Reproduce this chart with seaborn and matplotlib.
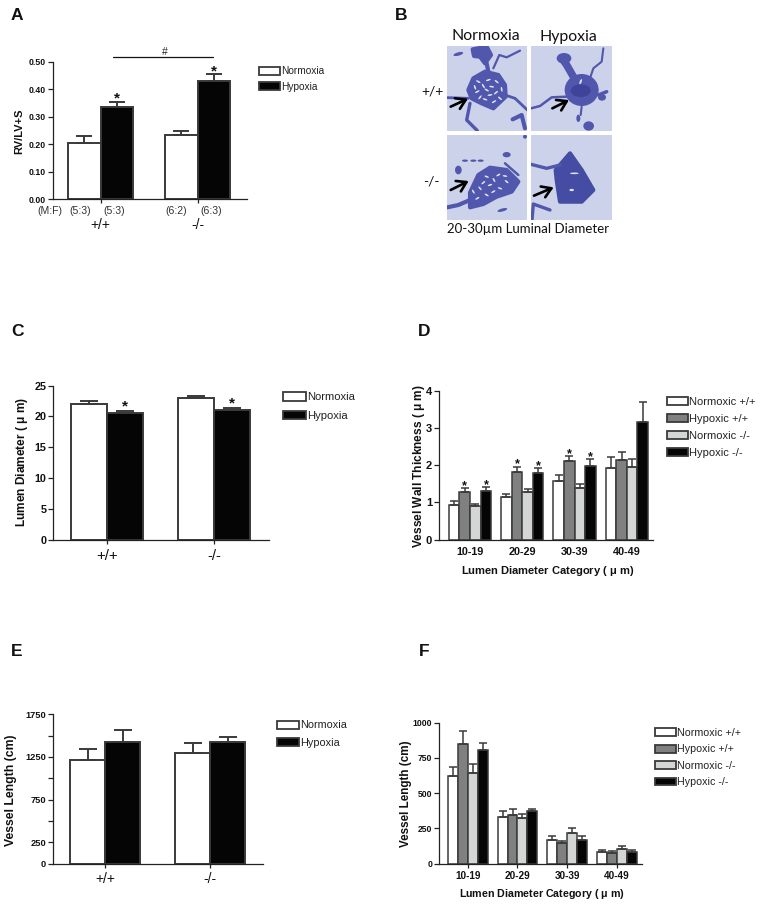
import pandas as pd
import numpy as np
import matplotlib
matplotlib.use("Agg")
import matplotlib.pyplot as plt
import seaborn as sns
from matplotlib.patches import Patch, Rectangle, Polygon, Ellipse

W, H = 764, 906

genotypes = ["+/+", "-/-"]
oxygen = ["Normoxia", "Hypoxia"]
diam_cats = ["10-19", "20-29", "30-39", "40-49"]
groups4 = ["Normoxic +/+", "Hypoxic +/+", "Normoxic -/-", "Hypoxic -/-"]

rv_normoxia = [0.206, 0.234]
rv_hypoxia = [0.334, 0.431]
rv_normoxia_err = [0.025, 0.015]
rv_hypoxia_err = [0.021, 0.023]
sex_ratio = ["(M:F)", "(5:3)", "(5:3)", "(6:2)", "(6:3)"]

lumen_normoxia = [22.1, 23.0]
lumen_hypoxia = [20.5, 21.05]
lumen_normoxia_err = [0.46, 0.27]
lumen_hypoxia_err = [0.40, 0.35]

length_normoxia = [1211, 1297]
length_hypoxia = [1422, 1430]
length_normoxia_err = [129, 121]
length_hypoxia_err = [144, 50]

wall_normoxic_wt = [0.94, 1.155, 1.575, 1.93]
wall_hypoxic_wt = [1.28, 1.82, 2.12, 2.14]
wall_normoxic_ko = [0.90, 1.27, 1.38, 1.94]
wall_hypoxic_ko = [1.31, 1.78, 1.99, 3.16]
wall_normoxic_wt_err = [0.10, 0.08, 0.155, 0.30]
wall_hypoxic_wt_err = [0.10, 0.14, 0.13, 0.21]
wall_normoxic_ko_err = [0.07, 0.08, 0.12, 0.23]
wall_hypoxic_ko_err = [0.11, 0.14, 0.17, 0.54]
wall_stars_hypoxic = [True, True, True, False]

catlen_normoxic_wt = [622, 331, 165, 83]
catlen_hypoxic_wt = [846, 345, 147, 73]
catlen_normoxic_ko = [643, 322, 220, 106]
catlen_hypoxic_ko = [804, 374, 170, 80]
catlen_normoxic_wt_err = [64, 42, 29, 16]
catlen_hypoxic_wt_err = [97, 45, 16, 14]
catlen_normoxic_ko_err = [61, 28, 33, 17]
catlen_hypoxic_ko_err = [49, 14, 26, 15]

EDGE = "#3a3a3a"
colors2 = ["white", "#050505"]
colors4 = ["white", "#808080", "#d4d6d6", "#050505"]

sns.set_theme(style="ticks")
plt.rcParams["font.family"] = ["Liberation Sans", "DejaVu Sans"]
plt.rcParams["mathtext.default"] = "regular"

fig = plt.figure(figsize=(W / 100, H / 100), dpi=100)


def fx(x):
    return x / W


def fy(y):
    return 1 - y / H


def px_text(x, y, s, **kw):
    kw.setdefault("ha", "center")
    kw.setdefault("va", "center")
    kw.setdefault("color", "#111111")
    fig.text(fx(x), fy(y), s, **kw)


def panel(box, xlim, ylim, yticks, ylabels, ysize, ticklen=3.4):
    left, top, right, bottom = box
    ax = fig.add_axes([fx(left), fy(bottom), fx(right - left), (bottom - top) / H])
    ax.set_xlim(xlim)
    ax.set_ylim(ylim)
    sns.despine(ax=ax)
    for s in ["left", "bottom"]:
        ax.spines[s].set_linewidth(0.9)
        ax.spines[s].set_color("#222222")
    ax.set_yticks(yticks)
    ax.set_yticklabels(ylabels, fontsize=ysize, fontweight="bold", color="#111111")
    ax.tick_params(axis="y", length=ticklen, width=0.9, pad=1.5, color="#222222")
    ax.tick_params(axis="x", length=3.2, width=0.9, color="#222222")
    return ax


def bars(ax, cats, names, values, errs, colors, width, capsize, edge=1.4):
    rows = []
    for name, vals in zip(names, values):
        for cat, v in zip(cats, vals):
            rows.append({"cat": cat, "group": name, "value": v})
    df = pd.DataFrame(rows)
    xlim, ylim = ax.get_xlim(), ax.get_ylim()
    sns.barplot(data=df, x="cat", y="value", hue="group", order=cats, hue_order=names,
                palette=dict(zip(names, colors)), saturation=1, width=width, gap=0,
                errorbar=None, edgecolor=EDGE, linewidth=edge, legend=False, ax=ax)
    tops = []
    for cont, vals, es in zip(ax.containers, values, errs):
        row = []
        for rect, v, e in zip(cont, vals, es):
            x = rect.get_x() + rect.get_width() / 2
            ax.errorbar(x, v, yerr=[[0], [e]], color=EDGE, elinewidth=edge, capsize=capsize,
                        capthick=edge, zorder=1.5)
            row.append((x, v + e))
        tops.append(row)
    ax.set_xlim(xlim)
    ax.set_ylim(ylim)
    ax.set_xlabel("")
    ax.set_ylabel("")
    return tops


def star(ax, pos, size, off):
    ax.annotate("*", xy=pos, xytext=(0, off), textcoords="offset points", ha="center",
                va="center", fontsize=size, fontweight="bold", color="#111111")


def legend(ax, names, colors, x, y, h, gap, size, hl, hh):
    handles = [Patch(facecolor=c, edgecolor=EDGE, linewidth=1.3) for c in colors]
    ax.legend(handles, names, loc="upper left", bbox_to_anchor=(fx(x), fy(y)),
              bbox_transform=fig.transFigure, frameon=False, borderpad=0, borderaxespad=0,
              fontsize=size, handlelength=hl, handleheight=hh, handletextpad=0.15,
              labelspacing=gap, labelcolor="#222222")


def ylab(ax, s, x, y, size):
    ax.set_ylabel(s, fontsize=size, fontweight="bold", color="#111111")
    ax.yaxis.set_label_coords(fx(x + 5.5), fy(y), transform=fig.transFigure)


def xlab(ax, s, x, y, size):
    ax.set_xlabel(s, fontsize=size, fontweight="bold", color="#111111")
    ax.xaxis.set_label_coords(fx(x), fy(y - 6), transform=fig.transFigure)


# A
ax = panel((52.7, 61.7, 247, 199.3), (-0.495, 1.508), (0, 0.5),
           [0, 0.1, 0.2, 0.3, 0.4, 0.5], ["0.00", "0.10", "0.20", "0.30", "0.40", "0.50"], 6.3)
tops = bars(ax, genotypes, oxygen, [rv_normoxia, rv_hypoxia],
            [rv_normoxia_err, rv_hypoxia_err], colors2, 0.67, 6.0)
ax.set_xticks([0, 1])
ax.set_xticklabels(genotypes, fontsize=10, color="#111111")
ax.tick_params(axis="x", pad=10)
for p in tops[1]:
    star(ax, p, 11, 2)
ylab(ax, "RV/LV+S", 19, 131, 8)
legend(ax, oxygen, colors2, 259.3, 66.5, 8.7, 0.52, 7.3, 2.0, 0.85)
for xp, s in zip([50, 80, 114, 176, 210.7], sex_ratio):
    px_text(xp, 210.5, s, fontsize=7.6, color="#333333")
fig.add_artist(plt.Line2D([fx(113.3), fx(213.3)], [fy(57), fy(57)], color="#111111", lw=0.9))
px_text(165, 52, "#", fontsize=7.5, color="#222222")

# B
axb = fig.add_axes([fx(390), fy(250), fx(280), 250 / H])
axb.set_xlim(0, 840)
axb.set_ylim(750, 0)
axb.axis("off")
BG = "#ccd2ea"
DARK = "#5057ad"
DEEP = "#3f4499"
PALE = "#dfe3f3"
frames = [(172, 138, 240, 255), (423, 138, 242, 255), (172, 404, 240, 256), (423, 404, 242, 256)]
rects = []
for fr in frames:
    r = Rectangle((fr[0], fr[1]), fr[2], fr[3], facecolor=BG, edgecolor="none")
    axb.add_patch(r)
    rects.append(r)


def strand(i, pts, lw=2):
    xs, ys = zip(*pts)
    line, = axb.plot(xs, ys, color=DARK, lw=lw, solid_capstyle="round", solid_joinstyle="round")
    line.set_clip_path(rects[i])


def blob(i, pts, color=DARK):
    p = Polygon(pts, closed=True, facecolor=color, edgecolor=color, lw=3, joinstyle="round")
    axb.add_patch(p)
    p.set_clip_path(rects[i])


def spot(i, x, y, w, h, color=DARK, angle=0):
    e = Ellipse((x, y), w, h, angle=angle, facecolor=color, edgecolor="none")
    axb.add_patch(e)
    e.set_clip_path(rects[i])


# top left micrograph
blob(0, [(235, 270), (250, 235), (285, 215), (325, 225), (345, 255), (347, 290), (310, 325), (275, 310), (245, 295)])
strand(0, [(295, 215), (290, 190), (280, 175)], 3)
blob(0, [(248, 148), (290, 140), (303, 165), (285, 190), (270, 170), (252, 168)])
strand(0, [(310, 205), (328, 165), (350, 172), (390, 152)], 1.6)
strand(0, [(345, 285), (375, 295), (412, 330)], 2)
strand(0, [(235, 295), (172, 293)], 2)
strand(0, [(240, 310), (230, 360), (262, 392)], 2.4)
strand(0, [(368, 358), (395, 345), (405, 385)], 3)
spot(0, 205, 162, 30, 10, angle=-15)
for px_, py_, ang in [(265, 245, 30), (295, 240, -20), (320, 245, 40), (262, 275, -30), (290, 270, 30),
                      (318, 278, -40), (285, 298, 20), (312, 305, -30), (255, 262, 70), (335, 268, 80),
                      (280, 258, 60), (305, 260, 10), (270, 292, -50), (300, 285, -10), (330, 295, 40)]:
    spot(0, px_, py_, 15, 5, PALE, ang)

# top right micrograph
spot(1, 575, 270, 102, 96)
spot(1, 572, 272, 60, 38, DEEP)
spot(1, 572, 245, 6, 16, PALE, 20)
strand(1, [(550, 230), (530, 195), (518, 178)], 5.5)
spot(1, 522, 175, 44, 32)
strand(1, [(640, 145), (635, 185), (610, 205), (600, 235)], 1.5)
strand(1, [(625, 285), (650, 275)], 2.5)
spot(1, 636, 292, 24, 20)
strand(1, [(530, 290), (485, 292), (450, 318), (423, 325)], 1.8)
strand(1, [(575, 320), (572, 345)], 1.5)
spot(1, 565, 355, 12, 22)
spot(1, 596, 378, 32, 28)

# bottom left micrograph
blob(2, [(240, 578), (265, 525), (300, 503), (350, 510), (385, 545), (365, 575), (320, 590), (280, 612), (240, 622)])
for px_, py_, ang in [(290, 530, 20), (325, 525, -30), (350, 545, 40), (300, 555, -20), (270, 565, 50),
                      (330, 565, 20), (262, 595, -30), (290, 585, 30), (250, 575, 60), (312, 540, 60),
                      (280, 548, -40), (345, 528, 10), (310, 575, -30)]:
    spot(2, px_, py_, 14, 5, PALE, ang)
strand(2, [(172, 622), (205, 615), (240, 600)], 3)
for px_, py_ in [(225, 482), (250, 482), (272, 482)]:
    spot(2, px_, py_, 18, 7)
spot(2, 350, 464, 24, 16)
spot(2, 205, 510, 20, 26)
spot(2, 337, 630, 30, 9, angle=-15)
spot(2, 405, 410, 12, 12)
strand(2, [(345, 490), (385, 525)], 1.8)

# bottom right micrograph
blob(3, [(540, 460), (575, 510), (610, 570), (575, 605), (510, 605), (500, 540), (497, 510)], "#454ca3")
spot(3, 553, 520, 26, 5, PALE)
spot(3, 545, 570, 14, 7, PALE)
strand(3, [(423, 493), (470, 505), (510, 495)], 2.4)
strand(3, [(426, 660), (430, 612), (480, 630)], 2.4)

for x0, y0, x1, y1 in [(182, 320, 234, 296), (487, 325, 537, 300), (182, 570, 236, 543), (432, 587, 491, 562)]:
    axb.annotate("", xy=(x1, y1), xytext=(x0, y0),
                 arrowprops=dict(arrowstyle="->,head_length=0.55,head_width=0.35", color="black", lw=1.9, shrinkA=0, shrinkB=0))

lato = ["Lato", "DejaVu Sans"]
px_text(486, 36.5, "Normoxia", fontsize=11.4, family=lato)
px_text(568.5, 36.5, "Hypoxia", fontsize=11.4, family=lato)
px_text(432, 91, "+/+", fontsize=10, family=lato)
px_text(431.5, 182, "-/-", fontsize=10, family=lato)
px_text(528, 229, "20-30µm Luminal Diameter", fontsize=9.5, family=lato)

# C
ax = panel((53.3, 385.7, 269.3, 539.7), (-0.496, 1.51), (0, 25),
           [0, 5, 10, 15, 20, 25], ["0", "5", "10", "15", "20", "25"], 7.8)
tops = bars(ax, genotypes, oxygen, [lumen_normoxia, lumen_hypoxia],
            [lumen_normoxia_err, lumen_hypoxia_err], colors2, 0.67, 6.4)
ax.set_xticks([0, 1])
ax.set_xticklabels(genotypes, fontsize=10.8, color="#111111")
for p in tops[1]:
    star(ax, p, 11, 3)
ylab(ax, "Lumen Diameter ( $\\mu$ m)", 24.3, 462, 8.6)
legend(ax, oxygen, colors2, 283.3, 392, 8.7, 0.77, 8.1, 2.0, 0.8)

# D
ax = panel((439, 390.7, 653.3, 539.7), (-0.593, 3.505), (0, 4),
           [0, 1, 2, 3, 4], ["0", "1", "2", "3", "4"], 8)
tops = bars(ax, diam_cats, groups4,
            [wall_normoxic_wt, wall_hypoxic_wt, wall_normoxic_ko, wall_hypoxic_ko],
            [wall_normoxic_wt_err, wall_hypoxic_wt_err, wall_normoxic_ko_err, wall_hypoxic_ko_err],
            colors4, 0.81, 3.1, edge=1.1)
ax.set_xticks(range(4))
ax.set_xticklabels(diam_cats, fontsize=7.8, fontweight="bold", color="#111111")
ax.tick_params(axis="x", length=0, pad=5)
for k in [1, 3]:
    for p, on in zip(tops[k], wall_stars_hypoxic):
        if on:
            star(ax, p, 9, 1.5)
ylab(ax, "Vessel Wall Thickness ( $\\mu$ m)", 421.7, 465.7, 8.6)
xlab(ax, "Lumen Diameter Category ( $\\mu$ m)", 547.7, 570, 8)
legend(ax, groups4, colors4, 666.7, 396.5, 8.7, 0.65, 8, 1.9, 0.75)

# E
ax = panel((52.7, 714.3, 263.3, 863.7), (-0.5, 1.506), (0, 1750),
           [0, 250, 500, 750, 1000, 1250, 1500, 1750], ["0", "250", "", "750", "", "1250", "", "1750"], 6.7)
tops = bars(ax, genotypes, oxygen, [length_normoxia, length_hypoxia],
            [length_normoxia_err, length_hypoxia_err], colors2, 0.67, 6.2)
ax.set_xticks([0, 1])
ax.set_xticklabels(genotypes, fontsize=10, color="#111111")
ax.tick_params(axis="x", pad=2.5)
ylab(ax, "Vessel Length (cm)", 11.7, 790, 8.8)
legend(ax, oxygen, colors2, 277, 720.5, 8.7, 0.68, 7.8, 2.0, 0.8)

# F
ax = panel((439, 722.7, 642.3, 863.7), (-0.576, 3.506), (0, 1000),
           [0, 250, 500, 750, 1000], ["0", "250", "500", "750", "1000"], 6.2)
tops = bars(ax, diam_cats, groups4,
            [catlen_normoxic_wt, catlen_hypoxic_wt, catlen_normoxic_ko, catlen_hypoxic_ko],
            [catlen_normoxic_wt_err, catlen_hypoxic_wt_err, catlen_normoxic_ko_err, catlen_hypoxic_ko_err],
            colors4, 0.8, 2.6, edge=1.1)
ax.set_xticks(range(4))
ax.set_xticklabels(diam_cats, fontsize=7.2, fontweight="bold", color="#111111")
ax.tick_params(axis="x", pad=2)
ylab(ax, "Vessel Length (cm)", 406.7, 794, 8.4)
xlab(ax, "Lumen Diameter Category ( $\\mu$ m)", 542, 892.7, 7.7)
legend(ax, groups4, colors4, 655.3, 728, 8.4, 0.6, 7.7, 1.9, 0.75)

# panel letters
for s, xp, yp in [("A", 17, 15), ("B", 400.7, 15), ("C", 17, 331), ("D", 424, 331), ("E", 17, 652), ("F", 424, 652)]:
    px_text(xp, yp, s, fontsize=12.5, fontweight="bold", family=["Liberation Sans"], color="#111111")

fig.savefig("out.png", dpi=100)
